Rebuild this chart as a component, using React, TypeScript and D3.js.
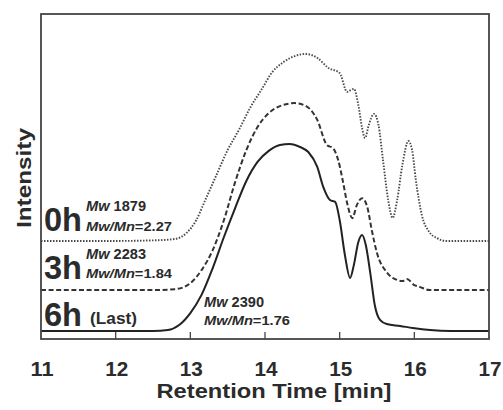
import React from "react";
import * as d3 from "d3";

// Retention time (min) samples and intensities (arbitrary units, peak ~100)
const t0h = [11.0, 12.0, 12.5, 12.8, 12.95, 13.08, 13.2, 13.35, 13.5, 13.65, 13.8, 13.95, 14.1, 14.25, 14.4, 14.55, 14.7, 14.85, 15.0, 15.1, 15.15, 15.19, 15.25, 15.3, 15.34, 15.39, 15.46, 15.52, 15.58, 15.65, 15.71, 15.77, 15.84, 15.92, 15.97, 16.02, 16.1, 16.2, 16.3, 16.42, 17.0];
const v0h = [0, 0, 0.3, 1.1, 4.3, 11.2, 21.9, 35.3, 48.7, 59.4, 71.2, 80.8, 90.5, 95.8, 99.0, 100.1, 98.0, 92.6, 89.9, 79.8, 80.8, 81.4, 72.8, 60.5, 55.1, 62.1, 68.0, 62.1, 43.4, 21.9, 12.3, 21.9, 40.7, 53.5, 48.7, 32.7, 13.9, 4.8, 1.6, 0, 0];

const t3h = [11.0, 12.5, 12.8, 13.0, 13.15, 13.3, 13.45, 13.6, 13.75, 13.9, 14.05, 14.2, 14.4, 14.55, 14.7, 14.83, 14.91, 14.98, 15.04, 15.1, 15.17, 15.23, 15.3, 15.37, 15.43, 15.5, 15.63, 15.77, 15.84, 15.9, 16.0, 16.08, 16.2, 17.0];
const v3h = [0, 0, 0.5, 3.7, 10.7, 21.4, 37.5, 57.8, 74.9, 87.3, 94.7, 98.5, 100.1, 98.5, 91.1, 77.6, 76.0, 69.6, 58.9, 46.6, 38.5, 45.5, 49.2, 44.4, 32.1, 19.8, 9.6, 5.4, 4.8, 5.9, 2.7, 1.6, 0, 0];

const t6h = [11.0, 12.5, 12.7, 12.85, 13.0, 13.15, 13.3, 13.45, 13.6, 13.75, 13.9, 14.05, 14.2, 14.33, 14.47, 14.58, 14.7, 14.78, 14.87, 14.94, 15.0, 15.07, 15.14, 15.19, 15.25, 15.3, 15.35, 15.41, 15.47, 15.54, 15.63, 15.81, 15.98, 16.21, 16.49, 17.0];
const v6h = [0, 0, 0.5, 3.2, 9.6, 19.3, 33.7, 50.3, 65.8, 80.3, 90.5, 96.4, 99.6, 100.1, 98.5, 95.8, 87.8, 77.1, 70.1, 69.1, 59.4, 40.7, 28.4, 35.3, 47.6, 51.4, 46.0, 31.0, 13.9, 5.9, 3.7, 2.7, 1.6, 0.5, 0, 0];

// vertical stacking offsets of the traces
const offsets = [52.5, 26.2, 4.3];
const seriesNames = ["0h", "3h", "6h"];
const mwValues = ["1879", "2283", "2390"];
const pdiValues = ["2.27", "1.84", "1.76"];

const xTicks = [11, 12, 13, 14, 15, 16, 17];

const W = 503;
const H = 410;
const left = 41, right = 489, top = 14, bottom = 339;

export default function App() {
  const x = d3.scaleLinear().domain([11, 17]).range([left, right]);
  const y = d3.scaleLinear().domain([0, 174]).range([bottom, top]);

  const series = [
    { t: t0h, v: v0h, off: offsets[0], dash: "1.5 1.5", width: 1.9, color: "#4a4a4a" },
    { t: t3h, v: v3h, off: offsets[1], dash: "5 2.6", width: 2, color: "#333" },
    { t: t6h, v: v6h, off: offsets[2], dash: null, width: 2, color: "#222" },
  ];

  const line = d3
    .line<[number, number]>()
    .x((d) => x(d[0]))
    .y((d) => y(d[1]))
    .curve(d3.curveMonotoneX);

  const txt = "#2b2b2b";
  const font = "'Liberation Sans', Arial, sans-serif";

  return (
    <svg
      width={W}
      height={H}
      style={{ position: "absolute", left: 0, top: 0, background: "#fff" }}
      fontFamily={font}
    >
      <rect x={0} y={0} width={W} height={H} fill="#fff" />
      {series.map((s, i) => (
        <path
          key={i}
          d={line(s.t.map((tt, j) => [tt, s.v[j] + s.off]) as [number, number][]) || ""}
          fill="none"
          stroke={s.color}
          strokeWidth={s.width}
          strokeDasharray={s.dash || undefined}
          strokeLinejoin="round"
        />
      ))}
      {/* frame */}
      <rect x={left} y={top} width={right - left} height={bottom - top} fill="none" stroke="#444" strokeWidth={1.8} />
      {/* ticks */}
      {xTicks.slice(1, -1).map((t) => (
        <line key={t} x1={x(t)} x2={x(t)} y1={bottom} y2={bottom - 7} stroke="#444" strokeWidth={1.3} />
      ))}
      {xTicks.map((t) => (
        <text key={t} x={x(t) + 1} y={376} textAnchor="middle" fontSize={20} fontWeight="bold" fill={txt}
          textLength={23} lengthAdjust="spacingAndGlyphs">
          {t}
        </text>
      ))}
      <text x={274} y={398} textAnchor="middle" fontSize={20} fontWeight="bold" fill={txt}
        textLength={235} lengthAdjust="spacingAndGlyphs">
        Retention Time [min]
      </text>
      <text transform="translate(31,178) rotate(-90)" textAnchor="middle" fontSize={20} fontWeight="bold" fill={txt}
        textLength={100} lengthAdjust="spacingAndGlyphs">
        Intensity
      </text>

      {/* series labels */}
      {seriesNames.map((n, i) => {
        const base = [231, 279, 326][i];
        return (
          <text key={n} x={44} y={base} fontSize={34} fontWeight="bold" fill={txt}
            textLength={38} lengthAdjust="spacingAndGlyphs">
            {n}
          </text>
        );
      })}
      <text x={90} y={324} fontSize={16} fontWeight="bold" fill={txt} textLength={47} lengthAdjust="spacingAndGlyphs">
        (Last)
      </text>
      {[0, 1, 2].map((i) => {
        const lx = i === 2 ? 204 : 86;
        const b1 = [211, 259, 307][i];
        const b2 = [231, 278, 325][i];
        return (
          <g key={i} fill={txt}>
            <text x={lx} y={b1} fontSize={15} fontWeight="bold" textLength={60} lengthAdjust="spacingAndGlyphs">
              <tspan fontStyle="italic">Mw</tspan> {mwValues[i]}
            </text>
            <text x={lx} y={b2} fontSize={13} fontWeight="bold" textLength={86} lengthAdjust="spacingAndGlyphs">
              <tspan fontStyle="italic">Mw/Mn</tspan>={pdiValues[i]}
            </text>
          </g>
        );
      })}
    </svg>
  );
}
